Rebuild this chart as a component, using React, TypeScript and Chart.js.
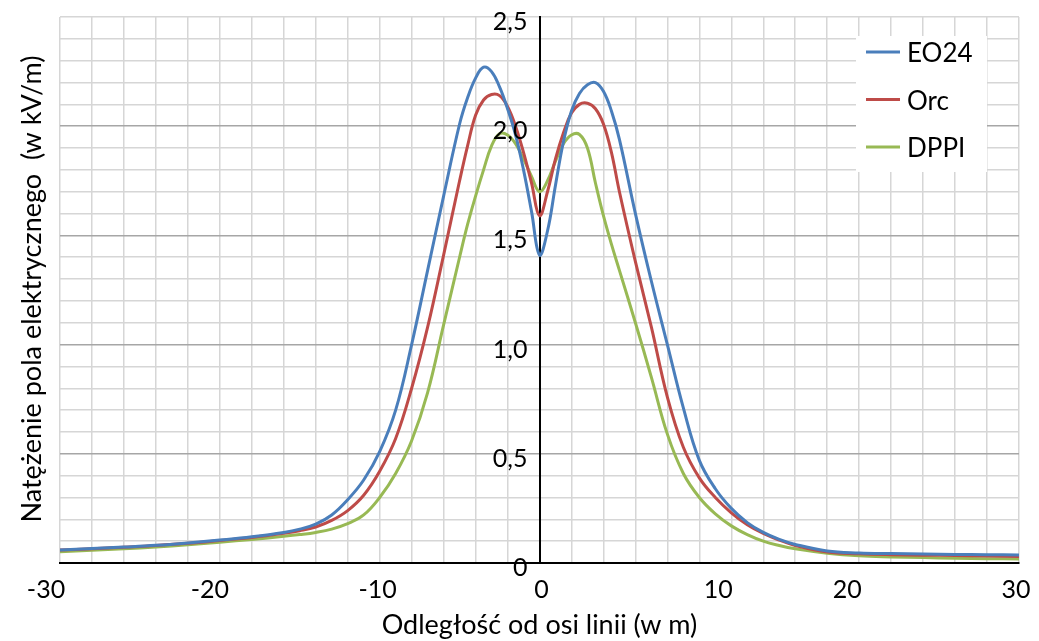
import React, { useEffect, useRef } from 'react';
import { Chart, registerables } from 'chart.js';

Chart.register(...registerables);

// Distance from the line axis (m)
const distances = [
  -30, -28, -26, -24, -22, -20, -18, -16,
  -15, -14, -13, -12, -11, -10, -9, -8, -7, -6, -5,
  -4.5, -4, -3.5, -3, -2.5, -2, -1.5, -1, -0.5, 0,
  0.5, 1, 1.5, 2, 2.5, 3, 3.5, 4, 4.5, 5,
  6, 7, 8, 9, 10, 11, 12, 13, 14, 15, 16,
  18, 20, 22, 24, 26, 28, 30,
];

const eo24 = [
  0.06, 0.066, 0.073, 0.081, 0.092, 0.105, 0.12, 0.14,
  0.155, 0.178, 0.22, 0.29, 0.38, 0.51, 0.7, 1.0, 1.34, 1.68, 2.01,
  2.13, 2.22, 2.27, 2.25, 2.18, 2.08, 1.96, 1.8, 1.61, 1.41,
  1.52, 1.73, 1.93, 2.07, 2.15, 2.19, 2.2, 2.16, 2.07, 1.94,
  1.6, 1.29, 1.0, 0.71, 0.47, 0.34, 0.25, 0.185, 0.14, 0.108, 0.085,
  0.055, 0.046, 0.043, 0.041, 0.039, 0.038, 0.037,
];

const orc = [
  0.06, 0.065, 0.072, 0.08, 0.09, 0.103, 0.117, 0.136,
  0.148, 0.165, 0.195, 0.24, 0.31, 0.42, 0.57, 0.8, 1.08, 1.41, 1.75,
  1.91, 2.05, 2.12, 2.145, 2.14, 2.09, 2.0, 1.88, 1.74, 1.59,
  1.7, 1.85, 1.97, 2.06, 2.1, 2.105, 2.08, 2.01, 1.88, 1.7,
  1.38, 1.08, 0.76, 0.53, 0.39, 0.3, 0.23, 0.175, 0.135, 0.105, 0.08,
  0.05, 0.042, 0.038, 0.036, 0.034, 0.032, 0.03,
];

const dppi = [
  0.052, 0.058, 0.065, 0.073, 0.083, 0.095, 0.108, 0.122,
  0.13, 0.14, 0.155, 0.18, 0.22, 0.3, 0.41, 0.56, 0.78, 1.09, 1.4,
  1.55, 1.68, 1.8, 1.91, 1.965, 1.96, 1.92, 1.85, 1.77, 1.7,
  1.75, 1.84, 1.92, 1.96, 1.962, 1.9, 1.74, 1.59, 1.46, 1.34,
  1.1, 0.85, 0.59, 0.41, 0.3, 0.225, 0.17, 0.13, 0.1, 0.08, 0.065,
  0.045, 0.033, 0.028, 0.025, 0.022, 0.02, 0.018,
];

const seriesNames = ['EO24', 'Orc', 'DPPI'];
const seriesColors = ['#4A7EBB', '#BE4B48', '#98B954'];
const xTickLabels = [-30, -20, -10, 0, 10, 20, 30];
const yTickLabels = [0, 0.5, 1, 1.5, 2, 2.5];
const xTitle = 'Odległość od osi linii (w m)';
const yTitle = 'Natężenie pola elektrycznego  (w kV/m)';

const FONT = 'Lato';

const xLabelNudge: Record<string, number> = {
  '-30': -14, '-20': -10, '-10': -2, '0': 2, '10': 19, '20': -12, '30': -3,
};

const fmtY = (v: number) => (v === 0 ? '0' : v.toFixed(1).replace('.', ','));

const tickLabelsPlugin = {
  id: 'tickLabels',
  afterDraw(chart: any) {
    const { ctx, chartArea } = chart;
    const xs = chart.scales.x;
    const ys = chart.scales.y;
    ctx.save();
    ctx.font = `25px ${FONT}`;
    ctx.fillStyle = '#000';
    ctx.textBaseline = 'middle';
    ctx.textAlign = 'center';
    xTickLabels.forEach((v) => {
      const px = xs.getPixelForValue(v) + (xLabelNudge[String(v)] || 0);
      ctx.fillText(String(v), px, chartArea.bottom + 27);
    });
    ctx.textAlign = 'right';
    const axisX = xs.getPixelForValue(0);
    yTickLabels.forEach((v) => {
      ctx.fillText(fmtY(v), axisX - 12, ys.getPixelForValue(v) + 5);
    });
    ctx.restore();
  },
};

const yTitlePlugin = {
  id: 'yTitle',
  afterDraw(chart: any) {
    const { ctx, chartArea } = chart;
    ctx.save();
    ctx.translate(32, (chartArea.top + chartArea.bottom) / 2 - 1);
    ctx.rotate(-Math.PI / 2);
    ctx.font = `27px ${FONT}`;
    ctx.fillStyle = '#000';
    ctx.textAlign = 'center';
    ctx.textBaseline = 'middle';
    ctx.fillText(yTitle, 0, 0);
    ctx.restore();
  },
};

const legendPlugin = {
  id: 'insetLegend',
  afterDraw(chart: any) {
    const { ctx, chartArea } = chart;
    const boxRight = chartArea.right - 32;
    const boxLeft = boxRight - 131;
    const boxTop = chartArea.top + 19;
    const boxH = 136;
    ctx.save();
    ctx.fillStyle = '#ffffff';
    ctx.fillRect(boxLeft, boxTop, boxRight - boxLeft, boxH);
    chart.data.datasets.forEach((ds: any, i: number) => {
      const y = boxTop + 16 + i * 47.5;
      ctx.strokeStyle = ds.borderColor;
      ctx.lineWidth = 3;
      ctx.beginPath();
      ctx.moveTo(boxLeft + 10, y);
      ctx.lineTo(boxLeft + 44, y);
      ctx.stroke();
      ctx.fillStyle = '#000';
      ctx.font = `26px ${FONT}`;
      ctx.textAlign = 'left';
      ctx.textBaseline = 'middle';
      ctx.fillText(ds.label, boxLeft + 51, y + 2);
    });
    ctx.restore();
  },
};

export default function App() {
  const canvasRef = useRef<HTMLCanvasElement | null>(null);

  useEffect(() => {
    let chart: Chart | null = null;
    let cancelled = false;
    const make = () => {
      if (cancelled || !canvasRef.current) return;
      const series = [eo24, orc, dppi];
      chart = new Chart(canvasRef.current, {
        type: 'line',
        data: {
          datasets: series.map((vals, i) => ({
            label: seriesNames[i],
            data: distances.map((x, j) => ({ x, y: vals[j] })),
            borderColor: seriesColors[i],
            backgroundColor: seriesColors[i],
            borderWidth: 3,
            pointRadius: 0,
            tension: 0.4,
            fill: false,
          })),
        },
        options: {
          responsive: false,
          animation: false,
          devicePixelRatio: 1,
          layout: { padding: { left: 60, right: 20, top: 17, bottom: 0 } },
          plugins: { legend: { display: false }, tooltip: { enabled: false } },
          scales: {
            x: {
              type: 'linear',
              position: 'bottom',
              min: -30,
              max: 30,
              ticks: { stepSize: 2, display: false },
              grid: { color: '#d6d6d6', lineWidth: 1.5, drawTicks: false },
              border: { color: '#000', width: 2 },
              title: {
                display: true,
                text: xTitle,
                color: '#000',
                font: { size: 27, family: FONT },
                padding: { top: 0, bottom: 0 },
              },
              afterFit: (s: any) => {
                s.height = 78;
              },
            },
            y: {
              type: 'linear',
              position: { x: 0 } as any,
              min: 0,
              max: 2.5,
              ticks: { stepSize: 0.1, autoSkip: false, display: false },
              grid: {
                drawTicks: false,
                lineWidth: 1.5,
                color: (ctx: any) => {
                  const v = ctx.tick ? ctx.tick.value : 0;
                  const k = Math.round(v * 10);
                  if (k % 5 === 0 && k !== 25) return '#a6a6a6';
                  return '#d6d6d6';
                },
              },
              border: { color: '#000', width: 2 },
            },
          },
        },
        plugins: [tickLabelsPlugin, yTitlePlugin, legendPlugin],
      });
    };
    if ((document as any).fonts && (document as any).fonts.load) {
      (document as any).fonts.load(`24px ${FONT}`).then(make, make);
    } else {
      make();
    }
    return () => {
      cancelled = true;
      if (chart) chart.destroy();
    };
  }, []);

  return (
    <div style={{ position: 'absolute', left: 0, top: 0, width: 1039, height: 641, background: '#fff' }}>
      <canvas ref={canvasRef} width={1039} height={641} style={{ display: 'block' }} />
    </div>
  );
}
